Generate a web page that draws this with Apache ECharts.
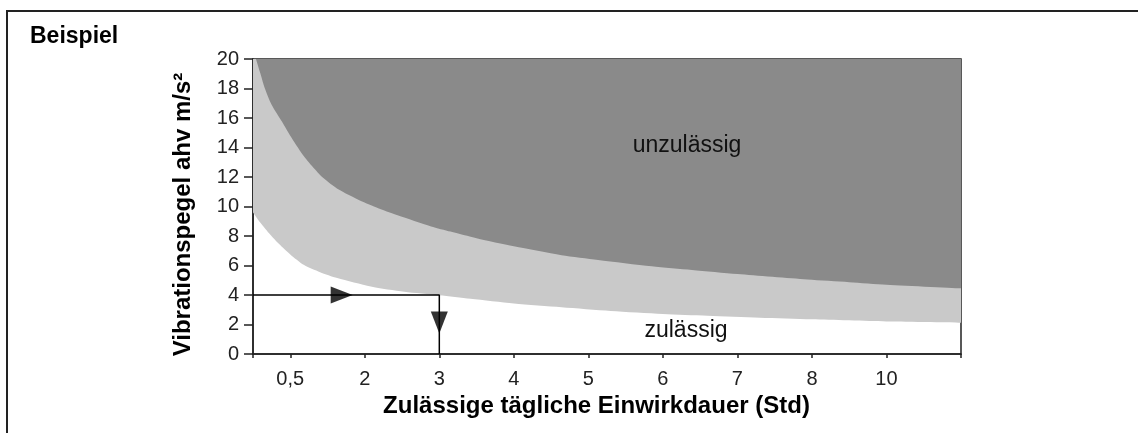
<!DOCTYPE html>
<html>
<head>
<meta charset="utf-8">
<script src="https://cdn.jsdelivr.net/npm/echarts@6/dist/echarts.min.js"></script>
<style>html,body{margin:0;padding:0;background:#fff;}#c{width:1138px;height:433px;}</style>
</head>
<body>
<div id="c"></div>
<script>
// x positions (hours, linear) and the limit curves
var upperX = [0.54,0.6,0.66,0.75,0.89,1.0,1.17,1.3,1.44,1.65,1.9,2.15,2.44,2.89,3.15,3.5,4.0,4.64,5.13,5.85,6.39,7.0,7.94,8.5,9.0,10.0];
var upperY = [20.0,19.0,18.0,16.9,15.75,14.8,13.5,12.7,11.95,11.15,10.5,9.95,9.4,8.65,8.3,7.85,7.3,6.7,6.38,5.95,5.7,5.42,5.05,4.87,4.7,4.45];
var lowerX = [0.5,0.6,0.73,0.85,1.0,1.18,1.4,1.63,2.08,2.53,3.0,3.42,4.0,4.64,5.3,6.0,6.6,7.3,8.0,9.0,10.0];
var lowerY = [9.6,8.9,8.1,7.45,6.75,6.05,5.55,5.15,4.58,4.22,3.98,3.74,3.42,3.17,2.92,2.72,2.6,2.46,2.35,2.2,2.12];
// example path: 4 m/s² -> 3 h
var pathX = [0.5,3,3];
var pathY = [4,4,0];
var arrowX = [1.69,3];
var arrowY = [4,2.14];
var arrowRot = [-90,180];
// axis ticks & labels
var xTickPos = [0.5,1,2,3,4,5,6,7,8,9,10];
var xLabelPos = [1,2,3,4,5,6,7,8,9];
var xLabelText = ['0,5','2','3','4','5','6','7','8','10'];

function zip(a,b){return a.map(function(v,i){return [v,b[i]];});}

var chart = echarts.init(document.getElementById('c'));
var FONT = '"Liberation Sans", Arial, sans-serif';
chart.setOption({
  animation:false,
  backgroundColor:'#fff',
  textStyle:{fontFamily:FONT},
  grid:{left:253,right:177,top:59,bottom:79,show:true,borderColor:'#222',borderWidth:1.5,backgroundColor:'transparent'},
  xAxis:{
    type:'value',min:0.5,max:10,
    name:'Zulässige tägliche Einwirkdauer (Std)',nameLocation:'middle',nameGap:38,
    nameTextStyle:{fontFamily:FONT,fontWeight:'bold',fontSize:24,color:'#000',padding:[0,21,0,0]},
    axisLine:{lineStyle:{color:'#222',width:1.5}},
    axisTick:{show:true,length:4,lineStyle:{color:'#222',width:1.5},customValues:xTickPos},
    axisLabel:{customValues:xLabelPos,fontSize:20,color:'#222',margin:15,fontFamily:FONT,
      formatter:function(v){var i=xLabelPos.indexOf(v);return i>=0?xLabelText[i]:'';}},
    splitLine:{show:false}
  },
  yAxis:{
    type:'value',min:0,max:20,interval:2,
    name:'Vibrationspegel ahv m/s²',nameLocation:'middle',nameGap:58,
    nameTextStyle:{fontFamily:FONT,fontWeight:'bold',fontSize:24,color:'#000',padding:[0,16,0,0]},
    axisLine:{show:true,lineStyle:{color:'#222',width:1.5}},
    axisTick:{show:true,length:9,lineStyle:{color:'#222',width:1.5}},
    axisLabel:{fontSize:20,color:'#222',margin:14,fontFamily:FONT},
    splitLine:{show:false}
  },
  series:[
    {type:'line',data:zip(lowerX,lowerY),showSymbol:false,symbol:'none',lineStyle:{width:0},
     smooth:0.25,
     areaStyle:{color:'#c9c9c9',opacity:1,origin:'end'},z:1,clip:true},
    {type:'line',data:zip(upperX,upperY),showSymbol:false,symbol:'none',lineStyle:{width:0},
     smooth:0.25,
     areaStyle:{color:'#8a8a8a',opacity:1,origin:'end'},z:2,clip:true},
    {type:'line',data:zip(pathX,pathY),showSymbol:false,symbol:'none',lineStyle:{color:'#000',width:1.5},z:5},
    {type:'scatter',data:arrowX.map(function(x,i){return {value:[x,arrowY[i]],symbolRotate:arrowRot[i]};}),
     symbol:'triangle',symbolSize:[17,22],itemStyle:{color:'#000'},z:6}
  ],
  graphic:[
    {type:'rect',shape:{x:7,y:11,width:1140,height:440},style:{fill:'none',stroke:'#222',lineWidth:2},z:-1},
    {type:'text',x:30,y:37,style:{text:'Beispiel',font:'bold 23px '+FONT,fill:'#000',textVerticalAlign:'middle'}},
    {type:'text',x:687,y:146,style:{text:'unzulässig',font:'23px '+FONT,fill:'#111',textAlign:'center',textVerticalAlign:'middle'},z:10},
    {type:'text',x:686,y:331,style:{text:'zulässig',font:'23px '+FONT,fill:'#111',textAlign:'center',textVerticalAlign:'middle'},z:10}
  ]
});
</script>
</body>
</html>
